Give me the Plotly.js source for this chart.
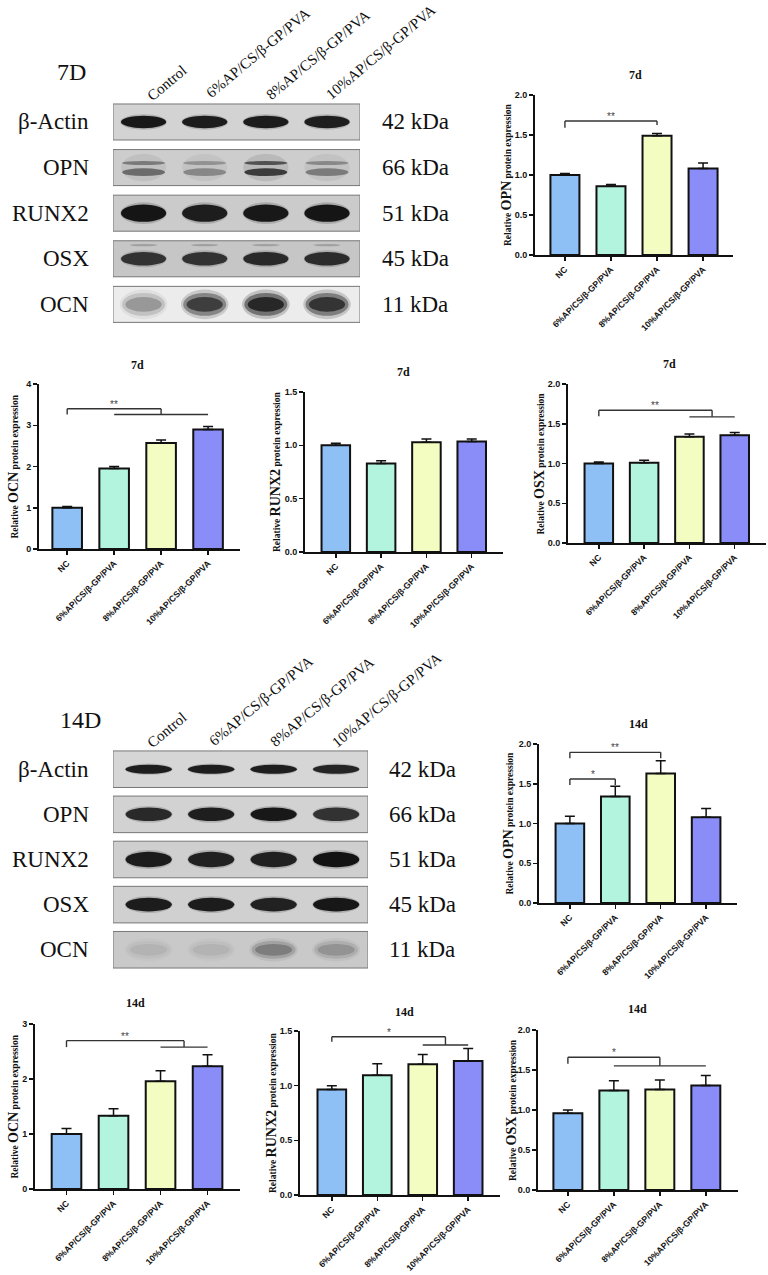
<!DOCTYPE html>
<html>
<head>
<meta charset="utf-8">
<script src="https://cdn.plot.ly/plotly-3.0.1.min.js"></script>
<style>
  html, body { margin: 0; padding: 0; background: #fff; }
  #chart { width: 768px; height: 1275px; }
</style>
</head>
<body>
<div id="chart"></div>
<script>
// ---------------- DATA ----------------
const groups = ['NC', '6%AP/CS/β-GP/PVA', '8%AP/CS/β-GP/PVA', '10%AP/CS/β-GP/PVA'];
const barColors = ['#8EC0F6', '#B3F4DE', '#F3FDC2', '#8A8CF8'];

// 7 days
const opn7d = [1.00, 0.86, 1.49, 1.08];
const opn7dErr = [0.02, 0.02, 0.03, 0.07];
const ocn7d = [1.00, 1.95, 2.57, 2.90];
const ocn7dErr = [0.03, 0.05, 0.07, 0.07];
const runx7d = [1.00, 0.83, 1.03, 1.035];
const runx7dErr = [0.02, 0.025, 0.03, 0.025];
const osx7d = [1.00, 1.01, 1.335, 1.355];
const osx7dErr = [0.02, 0.03, 0.035, 0.035];

// 14 days
const opn14d = [1.00, 1.34, 1.63, 1.08];
const opn14dErr = [0.09, 0.13, 0.16, 0.11];
const ocn14d = [1.00, 1.33, 1.96, 2.23];
const ocn14dErr = [0.10, 0.13, 0.19, 0.21];
const runx14d = [0.965, 1.095, 1.195, 1.225];
const runx14dErr = [0.035, 0.105, 0.09, 0.115];
const osx14d = [0.96, 1.245, 1.255, 1.305];
const osx14dErr = [0.04, 0.12, 0.12, 0.125];

// significance brackets: left group index, right group(s), label
const sigOpn7d = [{left: 0, right: [2], top: 1.675, dropL: 1.59, dropR: 1.625, label: '**'}];
const sigOcn7d = [{left: 0, right: [1, 3], top: 3.40, dropL: 3.26, dropR: 3.26, label: '**'}];
const sigRunx7d = [];
const sigOsx7d = [{left: 0, right: [2, 3], top: 1.67, dropL: 1.595, dropR: 1.587, label: '**'}];
const sigOpn14d = [
  {left: 0, right: [1], top: 1.56, dropL: 1.484, dropR: 1.484, label: '*'},
  {left: 0, right: [2], top: 1.895, dropL: 1.82, dropR: 1.82, label: '**'}
];
const sigOcn14d = [{left: 0, right: [2, 3], top: 2.697, dropL: 2.58, dropR: 2.58, label: '**'}];
const sigRunx14d = [{left: 0, right: [2, 3], top: 1.447, dropL: 1.402, dropR: 1.372, label: '*'}];
const sigOsx14d = [{left: 0, right: [1, 3], top: 1.66, dropL: 1.577, dropR: 1.552, label: '*'}];

// western blot labels and band intensities (0..1)
const blotProteins = ['β-Actin', 'OPN', 'RUNX2', 'OSX', 'OCN'];
const blotKDa = ['42 kDa', '66 kDa', '51 kDa', '45 kDa', '11 kDa'];
const blotLanes = ['Control', '6%AP/CS/β-GP/PVA', '8%AP/CS/β-GP/PVA', '10%AP/CS/β-GP/PVA'];
const band7dActin = [0.95, 0.93, 0.93, 0.92];
const band7dOpn = [0.55, 0.38, 0.85, 0.45];
const band7dRunx = [0.97, 0.92, 0.95, 0.97];
const band7dOsx = [0.78, 0.78, 0.84, 0.82];
const band7dOcn = [0.30, 0.78, 0.95, 0.85];
const band14dActin = [0.92, 0.92, 0.92, 0.88];
const band14dOpn = [0.85, 0.92, 0.95, 0.80];
const band14dRunx = [0.93, 0.90, 0.90, 0.98];
const band14dOsx = [0.93, 0.93, 0.90, 0.96];
const band14dOcn = [0.08, 0.08, 0.32, 0.22];

// ---------------- LAYOUT HELPERS ----------------
const W = 768, H = 1275;
const px = x => x / W;
const py = y => 1 - y / H;

const panels = [
  {vals: opn7d, err: opn7dErr, sig: sigOpn7d, ymax: 2, dtick: 0.5, fmt: '.1f', protein: 'OPN', title: '7d',
   xd: [535, 733], yd: [95, 255], xr: [-0.65, 3.65], ytx: 507, tt: [635, 75]},
  {vals: ocn7d, err: ocn7dErr, sig: sigOcn7d, ymax: 4, dtick: 1, fmt: 'd', protein: 'OCN', title: '7d',
   xd: [39, 240], yd: [384, 549], xr: [-0.6, 3.68], ytx: 13, tt: [137, 365]},
  {vals: runx7d, err: runx7dErr, sig: sigRunx7d, ymax: 1.5, dtick: 0.5, fmt: '.1f', protein: 'RUNX2', title: '7d',
   xd: [305, 503], yd: [392, 552], xr: [-0.68, 3.69], ytx: 276, tt: [403, 372]},
  {vals: osx7d, err: osx7dErr, sig: sigOsx7d, ymax: 2, dtick: 0.5, fmt: '.1f', protein: 'OSX', title: '7d',
   xd: [568, 766], yd: [384, 543], xr: [-0.68, 3.69], ytx: 539, tt: [669, 364]},
  {vals: opn14d, err: opn14dErr, sig: sigOpn14d, ymax: 2, dtick: 0.5, fmt: '.1f', protein: 'OPN', title: '14d',
   xd: [539, 737], yd: [744, 903], xr: [-0.68, 3.68], ytx: 508, tt: [638, 724]},
  {vals: ocn14d, err: ocn14dErr, sig: sigOcn14d, ymax: 3, dtick: 1, fmt: 'd', protein: 'OCN', title: '14d',
   xd: [35, 240], yd: [1024, 1189], xr: [-0.67, 3.69], ytx: 13, tt: [135, 1003]},
  {vals: runx14d, err: runx14dErr, sig: sigRunx14d, ymax: 1.5, dtick: 0.5, fmt: '.1f', protein: 'RUNX2', title: '14d',
   xd: [300, 500], yd: [1031, 1195], xr: [-0.7, 3.7], ytx: 271, tt: [404, 1012]},
  {vals: osx14d, err: osx14dErr, sig: sigOsx14d, ymax: 2, dtick: 0.5, fmt: '.1f', protein: 'OSX', title: '14d',
   xd: [538, 738], yd: [1030, 1190], xr: [-0.65, 3.7], ytx: 511, tt: [637, 1009]}
];

const sans = 'Liberation Sans, Arial, sans-serif';
const serif = 'Liberation Serif, Times New Roman, serif';
const ink = '#111';

const data = [];
const shapes = [];
const annotations = [];
const layout = {
  width: W, height: H,
  margin: {l: 0, r: 0, t: 0, b: 0},
  paper_bgcolor: '#fff', plot_bgcolor: 'rgba(0,0,0,0)',
  showlegend: false,
  shapes: shapes, annotations: annotations
};

panels.forEach((p, i) => {
  const n = i + 1;
  const xk = 'xaxis' + (n === 1 ? '' : n), yk = 'yaxis' + (n === 1 ? '' : n);
  const xr = 'x' + (n === 1 ? '' : n), yr = 'y' + (n === 1 ? '' : n);
  data.push({
    type: 'bar', x: groups, y: p.vals, xaxis: xr, yaxis: yr,
    width: 0.63,
    marker: {color: barColors, line: {color: ink, width: 2}},
    error_y: {type: 'data', symmetric: false, array: p.err, arrayminus: p.err.map(() => 0),
              color: ink, thickness: 1.5, width: 5},
    hoverinfo: 'skip', showlegend: false
  });
  layout[xk] = {
    domain: [px(p.xd[0]), px(p.xd[1])], anchor: yr, type: 'category', range: p.xr,
    showline: true, linecolor: ink, linewidth: 2, ticks: 'outside', ticklen: 4, tickwidth: 1.5, tickcolor: ink,
    tickangle: -45, tickfont: {family: sans, size: 8.7, weight: 'bold', color: ink},
    showgrid: false, zeroline: false, automargin: false, fixedrange: true
  };
  layout[yk] = {
    domain: [py(p.yd[1]), py(p.yd[0])], anchor: xr, range: [0, p.ymax], dtick: p.dtick, tick0: 0,
    tickformat: p.fmt,
    showline: true, linecolor: ink, linewidth: 2, ticks: 'outside', ticklen: 4, tickwidth: 1.5, tickcolor: ink,
    tickfont: {family: sans, size: 9, weight: 'bold', color: ink},
    showgrid: false, zeroline: false, automargin: false, fixedrange: true
  };
  // panel title
  annotations.push({
    xref: 'paper', yref: 'paper', x: px(p.tt[0]), y: py(p.tt[1]), xanchor: 'center', yanchor: 'middle',
    text: p.title, showarrow: false, font: {family: serif, size: 12, weight: 'bold', color: ink}
  });
  // y axis title (mixed font sizes)
  annotations.push({
    xref: 'paper', yref: 'paper', x: px(p.ytx), y: py((p.yd[0] + p.yd[1]) / 2),
    xanchor: 'center', yanchor: 'middle', textangle: -90, showarrow: false,
    text: 'Relative <span style="font-size:14px">' + p.protein + '</span> protein expression',
    font: {family: serif, size: 9.5, weight: 'bold', color: ink}
  });
  // significance brackets
  const lineStyle = {color: '#333', width: 1.4};
  p.sig.forEach(s => {
    const seg = (x0, y0, x1, y1) => shapes.push({type: 'line', xref: xr, yref: yr, x0, y0, x1, y1, line: lineStyle});
    let rightX;
    if (s.right.length === 1) {
      rightX = s.right[0];
      seg(s.left, s.top, rightX, s.top);
      seg(s.left, s.top, s.left, s.dropL);
      seg(rightX, s.top, rightX, s.dropR);
    } else {
      const g0 = s.right[0], g1 = s.right[s.right.length - 1];
      rightX = (g0 + g1) / 2;
      seg(s.left, s.top, rightX, s.top);
      seg(s.left, s.top, s.left, s.dropL);
      seg(rightX, s.top, rightX, s.dropR);
      seg(g0, s.dropR, g1, s.dropR);
    }
    annotations.push({
      xref: xr, yref: yr, x: (s.left + rightX) / 2, y: s.top, xanchor: 'center', yanchor: 'bottom', yshift: -3,
      text: s.label, showarrow: false, font: {family: sans, size: 10, color: '#444'}
    });
  });
});

// ---------------- WESTERN BLOTS ----------------
const blots = [
  {n: 9, tag: '7D', bands: [band7dActin, band7dOpn, band7dRunx, band7dOsx, band7dOcn],
   xd: [113, 360], xr: [-0.5, 3.54], yd: [100, 327], yr: [4.496, -0.482], half: 0.395,
   bg: ['#d3d3d3', '#cdcdcd', '#cbcbcb', '#c6c6c6', '#ececec'],
   heights: [0.27, 0.2, 0.38, 0.3, 0.5],
   nameX: 91, kdaX: 380, tagXY: [71, 72],
   heads: [[167, 83], [258, 53], [318, 55], [381, 52]]},
  {n: 10, tag: '14D', bands: [band14dActin, band14dOpn, band14dRunx, band14dOsx, band14dOcn],
   xd: [113, 368], xr: [-0.571, 3.51], yd: [748, 980], yr: [4.67, -0.47], half: 0.405,
   bg: ['#d6d6d6', '#d2d2d2', '#cfcfcf', '#d0d0d0', '#c9c9c9'],
   heights: [0.2, 0.3, 0.34, 0.3, 0.4],
   nameX: 91, kdaX: 387, tagXY: [80, 720],
   heads: [[167, 730], [261, 701], [322, 702], [387, 700]]}
];

blots.forEach(b => {
  const xr = 'x' + b.n, yr = 'y' + b.n;
  layout['xaxis' + b.n] = {domain: [px(b.xd[0]), px(b.xd[1])], range: b.xr, anchor: yr, visible: false, fixedrange: true};
  layout['yaxis' + b.n] = {domain: [py(b.yd[1]), py(b.yd[0])], range: b.yr, anchor: xr, visible: false, fixedrange: true};
  // invisible anchor trace for the blot axes (lane centres)
  data.push({type: 'scatter', mode: 'markers', x: [0, 1, 2, 3], y: [0, 0, 0, 0], xaxis: xr, yaxis: yr,
             marker: {opacity: 0}, hoverinfo: 'skip', showlegend: false});

  b.bands.forEach((lanes, row) => {
    // frame
    shapes.push({type: 'rect', xref: xr, yref: yr, x0: b.xr[0], x1: b.xr[1], y0: row - b.half, y1: row + b.half,
                 fillcolor: b.bg[row], line: {color: '#777', width: 1}});
    const h = b.heights[row];
    lanes.forEach((v, lane) => {
      const w = 0.74;
      const ell = (ww, hh, op, dy) => shapes.push({
        type: 'circle', xref: xr, yref: yr,
        x0: lane - ww / 2, x1: lane + ww / 2, y0: row + (dy || 0) - hh / 2, y1: row + (dy || 0) + hh / 2,
        fillcolor: 'rgba(10,10,10,' + op.toFixed(3) + ')', line: {width: 0}
      });
      if (row === 1 && b.n === 9) {
        // 7D OPN: smeared double band
        ell(w * 1.0, 0.6, 0.12 * v);
        ell(w * 0.95, 0.09, 0.7 * v, -0.1);
        ell(w * 0.95, 0.17, 0.85 * v, 0.1);
      } else if (row === 4) {
        // OCN: diffuse band
        ell(w * 1.05, h * 1.3, 0.2 * v);
        ell(w * 0.95, h, 0.45 * v);
        ell(w * 0.8, h * 0.65, 0.75 * v);
      } else {
        ell(w * 1.03, h * 1.25, 0.18 * v);
        ell(w, h, 0.96 * v);
        if (row === 3 && b.n === 9) ell(w * 0.6, 0.05, 0.2, -0.3);
      }
    });
    annotations.push({xref: 'paper', yref: yr, x: px(b.nameX), y: row, xanchor: 'right', yanchor: 'middle',
                      text: blotProteins[row], showarrow: false, font: {family: serif, size: 23, color: ink}});
    annotations.push({xref: 'paper', yref: yr, x: px(b.kdaX), y: row, xanchor: 'left', yanchor: 'middle',
                      text: blotKDa[row], showarrow: false, font: {family: serif, size: 23, color: ink}});
  });
  annotations.push({xref: 'paper', yref: 'paper', x: px(b.tagXY[0]), y: py(b.tagXY[1]), xanchor: 'center', yanchor: 'middle',
                    text: b.tag, showarrow: false, font: {family: serif, size: 24, color: ink}});
  blotLanes.forEach((t, k) => {
    annotations.push({xref: 'paper', yref: 'paper', x: px(b.heads[k][0]), y: py(b.heads[k][1]),
                      xanchor: 'center', yanchor: 'middle', textangle: -40, text: t, showarrow: false,
                      font: {family: serif, size: 15, color: ink}});
  });
});

Plotly.newPlot('chart', data, layout, {staticPlot: true, displayModeBar: false});
</script>
</body>
</html>
